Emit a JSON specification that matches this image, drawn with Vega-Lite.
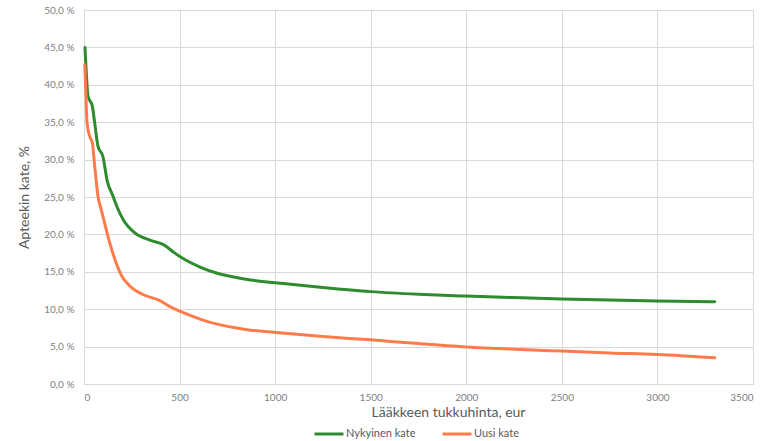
{
  "$schema": "https://vega.github.io/schema/vega-lite/v6.json",
  "width": 669,
  "height": 374,
  "autosize": {"type": "none"},
  "padding": {"left": 84, "top": 10, "right": 21, "bottom": 57},
  "background": "white",
  "config": {
    "font": "Lato",
    "view": {"stroke": null},
    "axis": {
      "gridColor": "#d9d9d9",
      "gridWidth": 1,
      "domainColor": "#d9d9d9",
      "ticks": false,
      "labelColor": "#808080",
      "labelFontSize": 10,
      "titleColor": "#595959",
      "titleFontWeight": "normal"
    }
  },
  "data": {
    "values": [
      {"hinta": 5, "kate": 45.0, "sarja": "Nykyinen kate"},
      {"hinta": 12, "kate": 41.6, "sarja": "Nykyinen kate"},
      {"hinta": 21, "kate": 38.5, "sarja": "Nykyinen kate"},
      {"hinta": 44, "kate": 37.1, "sarja": "Nykyinen kate"},
      {"hinta": 56, "kate": 34.9, "sarja": "Nykyinen kate"},
      {"hinta": 73, "kate": 31.8, "sarja": "Nykyinen kate"},
      {"hinta": 99, "kate": 30.4, "sarja": "Nykyinen kate"},
      {"hinta": 122, "kate": 27.1, "sarja": "Nykyinen kate"},
      {"hinta": 148, "kate": 25.35, "sarja": "Nykyinen kate"},
      {"hinta": 174, "kate": 23.6, "sarja": "Nykyinen kate"},
      {"hinta": 209, "kate": 21.8, "sarja": "Nykyinen kate"},
      {"hinta": 261, "kate": 20.3, "sarja": "Nykyinen kate"},
      {"hinta": 348, "kate": 19.2, "sarja": "Nykyinen kate"},
      {"hinta": 418, "kate": 18.6, "sarja": "Nykyinen kate"},
      {"hinta": 470, "kate": 17.6, "sarja": "Nykyinen kate"},
      {"hinta": 523, "kate": 16.7, "sarja": "Nykyinen kate"},
      {"hinta": 610, "kate": 15.6, "sarja": "Nykyinen kate"},
      {"hinta": 697, "kate": 14.8, "sarja": "Nykyinen kate"},
      {"hinta": 784, "kate": 14.3, "sarja": "Nykyinen kate"},
      {"hinta": 871, "kate": 13.9, "sarja": "Nykyinen kate"},
      {"hinta": 1000, "kate": 13.55, "sarja": "Nykyinen kate"},
      {"hinta": 1250, "kate": 12.9, "sarja": "Nykyinen kate"},
      {"hinta": 1500, "kate": 12.35, "sarja": "Nykyinen kate"},
      {"hinta": 1750, "kate": 12.0, "sarja": "Nykyinen kate"},
      {"hinta": 2000, "kate": 11.75, "sarja": "Nykyinen kate"},
      {"hinta": 2250, "kate": 11.55, "sarja": "Nykyinen kate"},
      {"hinta": 2500, "kate": 11.38, "sarja": "Nykyinen kate"},
      {"hinta": 2750, "kate": 11.22, "sarja": "Nykyinen kate"},
      {"hinta": 3000, "kate": 11.1, "sarja": "Nykyinen kate"},
      {"hinta": 3300, "kate": 11.0, "sarja": "Nykyinen kate"},
      {"hinta": 4, "kate": 42.7, "sarja": "Uusi kate"},
      {"hinta": 9, "kate": 39.4, "sarja": "Uusi kate"},
      {"hinta": 16, "kate": 34.9, "sarja": "Uusi kate"},
      {"hinta": 30, "kate": 33.1, "sarja": "Uusi kate"},
      {"hinta": 44, "kate": 32.2, "sarja": "Uusi kate"},
      {"hinta": 56, "kate": 29.1, "sarja": "Uusi kate"},
      {"hinta": 65, "kate": 26.9, "sarja": "Uusi kate"},
      {"hinta": 73, "kate": 25.1, "sarja": "Uusi kate"},
      {"hinta": 87, "kate": 23.6, "sarja": "Uusi kate"},
      {"hinta": 105, "kate": 21.8, "sarja": "Uusi kate"},
      {"hinta": 131, "kate": 19.2, "sarja": "Uusi kate"},
      {"hinta": 157, "kate": 17.0, "sarja": "Uusi kate"},
      {"hinta": 192, "kate": 14.7, "sarja": "Uusi kate"},
      {"hinta": 244, "kate": 13.0, "sarja": "Uusi kate"},
      {"hinta": 314, "kate": 11.9, "sarja": "Uusi kate"},
      {"hinta": 392, "kate": 11.2, "sarja": "Uusi kate"},
      {"hinta": 453, "kate": 10.3, "sarja": "Uusi kate"},
      {"hinta": 505, "kate": 9.7, "sarja": "Uusi kate"},
      {"hinta": 610, "kate": 8.65, "sarja": "Uusi kate"},
      {"hinta": 697, "kate": 8.0, "sarja": "Uusi kate"},
      {"hinta": 784, "kate": 7.55, "sarja": "Uusi kate"},
      {"hinta": 871, "kate": 7.2, "sarja": "Uusi kate"},
      {"hinta": 1000, "kate": 6.9, "sarja": "Uusi kate"},
      {"hinta": 1250, "kate": 6.35, "sarja": "Uusi kate"},
      {"hinta": 1500, "kate": 5.9, "sarja": "Uusi kate"},
      {"hinta": 1750, "kate": 5.4, "sarja": "Uusi kate"},
      {"hinta": 2000, "kate": 4.96, "sarja": "Uusi kate"},
      {"hinta": 2250, "kate": 4.65, "sarja": "Uusi kate"},
      {"hinta": 2500, "kate": 4.4, "sarja": "Uusi kate"},
      {"hinta": 2750, "kate": 4.15, "sarja": "Uusi kate"},
      {"hinta": 3000, "kate": 3.94, "sarja": "Uusi kate"},
      {"hinta": 3300, "kate": 3.5, "sarja": "Uusi kate"}
    ]
  },
  "mark": {"type": "line", "interpolate": "monotone", "strokeWidth": 3, "strokeCap": "round"},
  "encoding": {
    "x": {
      "field": "hinta",
      "type": "quantitative",
      "scale": {"domain": [0, 3500], "nice": false},
      "axis": {
        "title": "Lääkkeen tukkuhinta, eur",
        "values": [0, 500, 1000, 1500, 2000, 2500, 3000, 3500],
        "format": "d",
        "labelPadding": 8,
        "titleFontSize": 14,
        "titlePadding": 3,
        "titleX": 364
      }
    },
    "y": {
      "field": "kate",
      "type": "quantitative",
      "scale": {"domain": [0, 50], "nice": false},
      "axis": {
        "title": "Apteekin kate, %",
        "values": [0, 5, 10, 15, 20, 25, 30, 35, 40, 45, 50],
        "labelExpr": "replace(format(datum.value, '.1f'), '.', ',') + ' %'",
        "labelPadding": 10,
        "titleFontSize": 14,
        "titlePadding": 12
      }
    },
    "color": {
      "field": "sarja",
      "type": "nominal",
      "scale": {"domain": ["Nykyinen kate", "Uusi kate"], "range": ["#2e8b2e", "#ff7b4a"]},
      "legend": {
        "title": null,
        "orient": "none",
        "legendX": 229,
        "legendY": 408,
        "direction": "horizontal",
        "symbolType": "stroke",
        "symbolSize": 841,
        "symbolStrokeWidth": 3,
        "labelFontSize": 11,
        "labelColor": "#595959",
        "labelOffset": 1,
        "columnPadding": 20
      }
    }
  }
}
